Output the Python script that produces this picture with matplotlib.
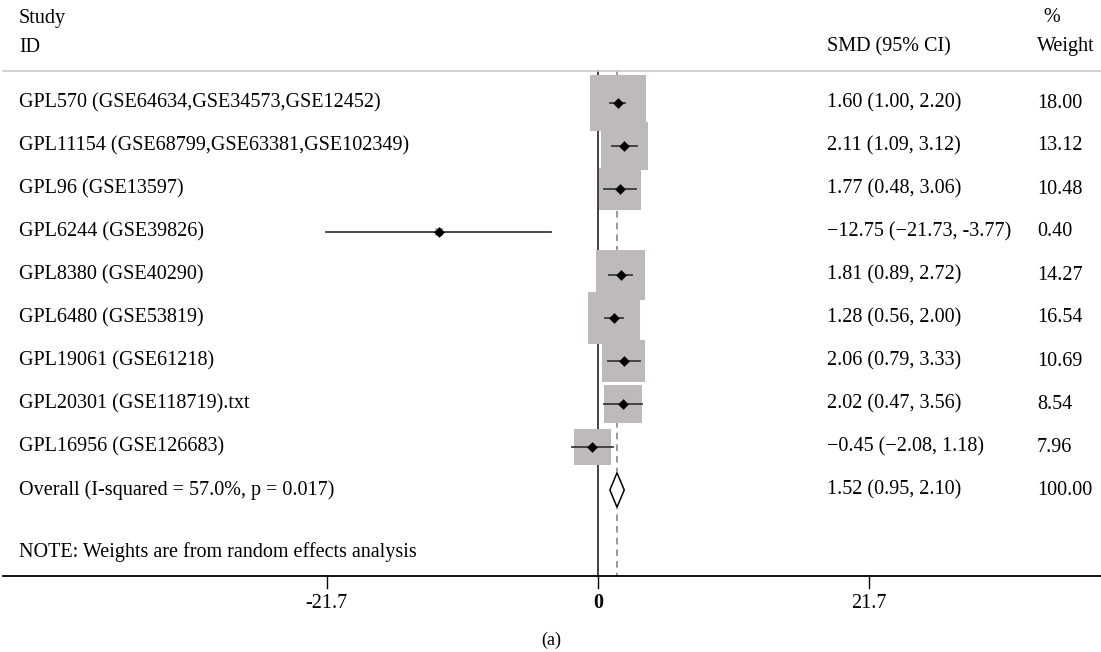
import numpy as np
import matplotlib.pyplot as plt
from matplotlib.patches import Polygon

plt.rcParams['font.family'] = ['Liberation Serif', 'DejaVu Serif']

# study data
studies = ["GPL570 (GSE64634,GSE34573,GSE12452)",
           "GPL11154 (GSE68799,GSE63381,GSE102349)",
           "GPL96 (GSE13597)",
           "GPL6244 (GSE39826)",
           "GPL8380 (GSE40290)",
           "GPL6480 (GSE53819)",
           "GPL19061 (GSE61218)",
           "GPL20301 (GSE118719).txt",
           "GPL16956 (GSE126683)"]
smd = [1.60, 2.11, 1.77, -12.75, 1.81, 1.28, 2.06, 2.02, -0.45]
lo = [1.00, 1.09, 0.48, -21.73, 0.89, 0.56, 0.79, 0.47, -2.08]
hi = [2.20, 3.12, 3.06, -3.77, 2.72, 2.00, 3.33, 3.56, 1.18]
weight = [18.00, 13.12, 10.48, 0.40, 14.27, 16.54, 10.69, 8.54, 7.96]
ci_text = ["1.60 (1.00, 2.20)", "2.11 (1.09, 3.12)", "1.77 (0.48, 3.06)",
           "\u221212.75 (\u221221.73, -3.77)", "1.81 (0.89, 2.72)",
           "1.28 (0.56, 2.00)", "2.06 (0.79, 3.33)", "2.02 (0.47, 3.56)",
           "\u22120.45 (\u22122.08, 1.18)"]
overall = (1.52, 0.95, 2.10)
overall_label = "Overall (I-squared = 57.0%, p = 0.017)"
overall_text = "1.52 (0.95, 2.10)"
xticks = [-21.7, 0, 21.7]

W, H = 1101, 652
X0, XS = 598, 12.5     # pixel of x=0, pixels per unit
Y0, YS = 103, 43       # pixel of first row, pixels per row


def px(p):
    return (p - X0) / XS


def py(p):
    return (p - Y0) / YS


fig = plt.figure(figsize=(W / 100, H / 100), dpi=100)
ax = fig.add_axes([0, 0, 1, 1])
ax.set_xlim(px(0), px(W))
ax.set_ylim(py(H), py(0))
ax.axis('off')

fs = 14.5
n = len(studies)
rows = np.arange(n)
c_lab, c_smd, c_wt = px(19), px(827), px(1037)

# header
ax.text(c_lab, py(18), "Study", fontsize=fs, va='center')
ax.text(c_lab, py(47), "ID", fontsize=fs, va='center')
ax.text(c_smd, py(47), "SMD (95% CI)", fontsize=fs, va='center')
ax.text(c_wt + 6 / XS, py(18), "%", fontsize=fs, va='center')
ax.text(c_wt, py(47), "Weight", fontsize=fs, va='center')
ax.plot([px(3), px(W)], [py(71), py(71)], color='#c8c8c8', lw=1.2)

# reference lines
ax.plot([0, 0], [py(71), py(576)], color='#333333', lw=1.3, zorder=1)
ax.plot([overall[0]] * 2, [py(71), py(576)], color='#888888', lw=1.2,
        ls=(0, (4, 3)), zorder=1)

# weight boxes, CI lines, point estimates
ax.scatter(smd, rows, s=np.array(weight) * 88, marker='s', color='#bebaba',
           lw=0, zorder=2)
for i in range(n):
    ax.plot([lo[i], hi[i]], [i, i], color='#3a3a3a', lw=1.3, zorder=3)
ax.scatter(smd, rows, s=30, marker='D', color='black', lw=0, zorder=4)

# overall diamond
yo = n
ax.add_patch(Polygon([[overall[1], yo], [overall[0], yo - 0.4],
                      [overall[2], yo], [overall[0], yo + 0.4]],
                     closed=True, facecolor='white', edgecolor='black',
                     lw=1.1, zorder=4))

# text columns
for i in range(n):
    ax.text(c_lab, i, studies[i], fontsize=fs, va='center')
    ax.text(c_smd, i, ci_text[i], fontsize=fs, va='center')
    ax.text(c_wt, i, f"{weight[i]:.2f}", fontsize=fs, va='center')
ax.text(c_lab, yo, overall_label, fontsize=fs, va='center')
ax.text(c_smd, yo, overall_text, fontsize=fs, va='center')
ax.text(c_wt, yo, "100.00", fontsize=fs, va='center')
ax.text(c_lab, py(552), "NOTE: Weights are from random effects analysis",
        fontsize=fs, va='center')

# x axis
ax.plot([px(3), px(W)], [py(576), py(576)], color='black', lw=1.3)
for t in xticks:
    ax.plot([t, t], [py(576), py(588)], color='black', lw=1.0)
    ax.text(t, py(603), f"{t:g}", fontsize=fs, ha='center', va='center',
            fontweight='bold' if t == 0 else 'normal')

ax.text(px(551), py(640), "(a)", fontsize=fs - 1.5, ha='center', va='center')

fig.savefig("out.png", dpi=100)
